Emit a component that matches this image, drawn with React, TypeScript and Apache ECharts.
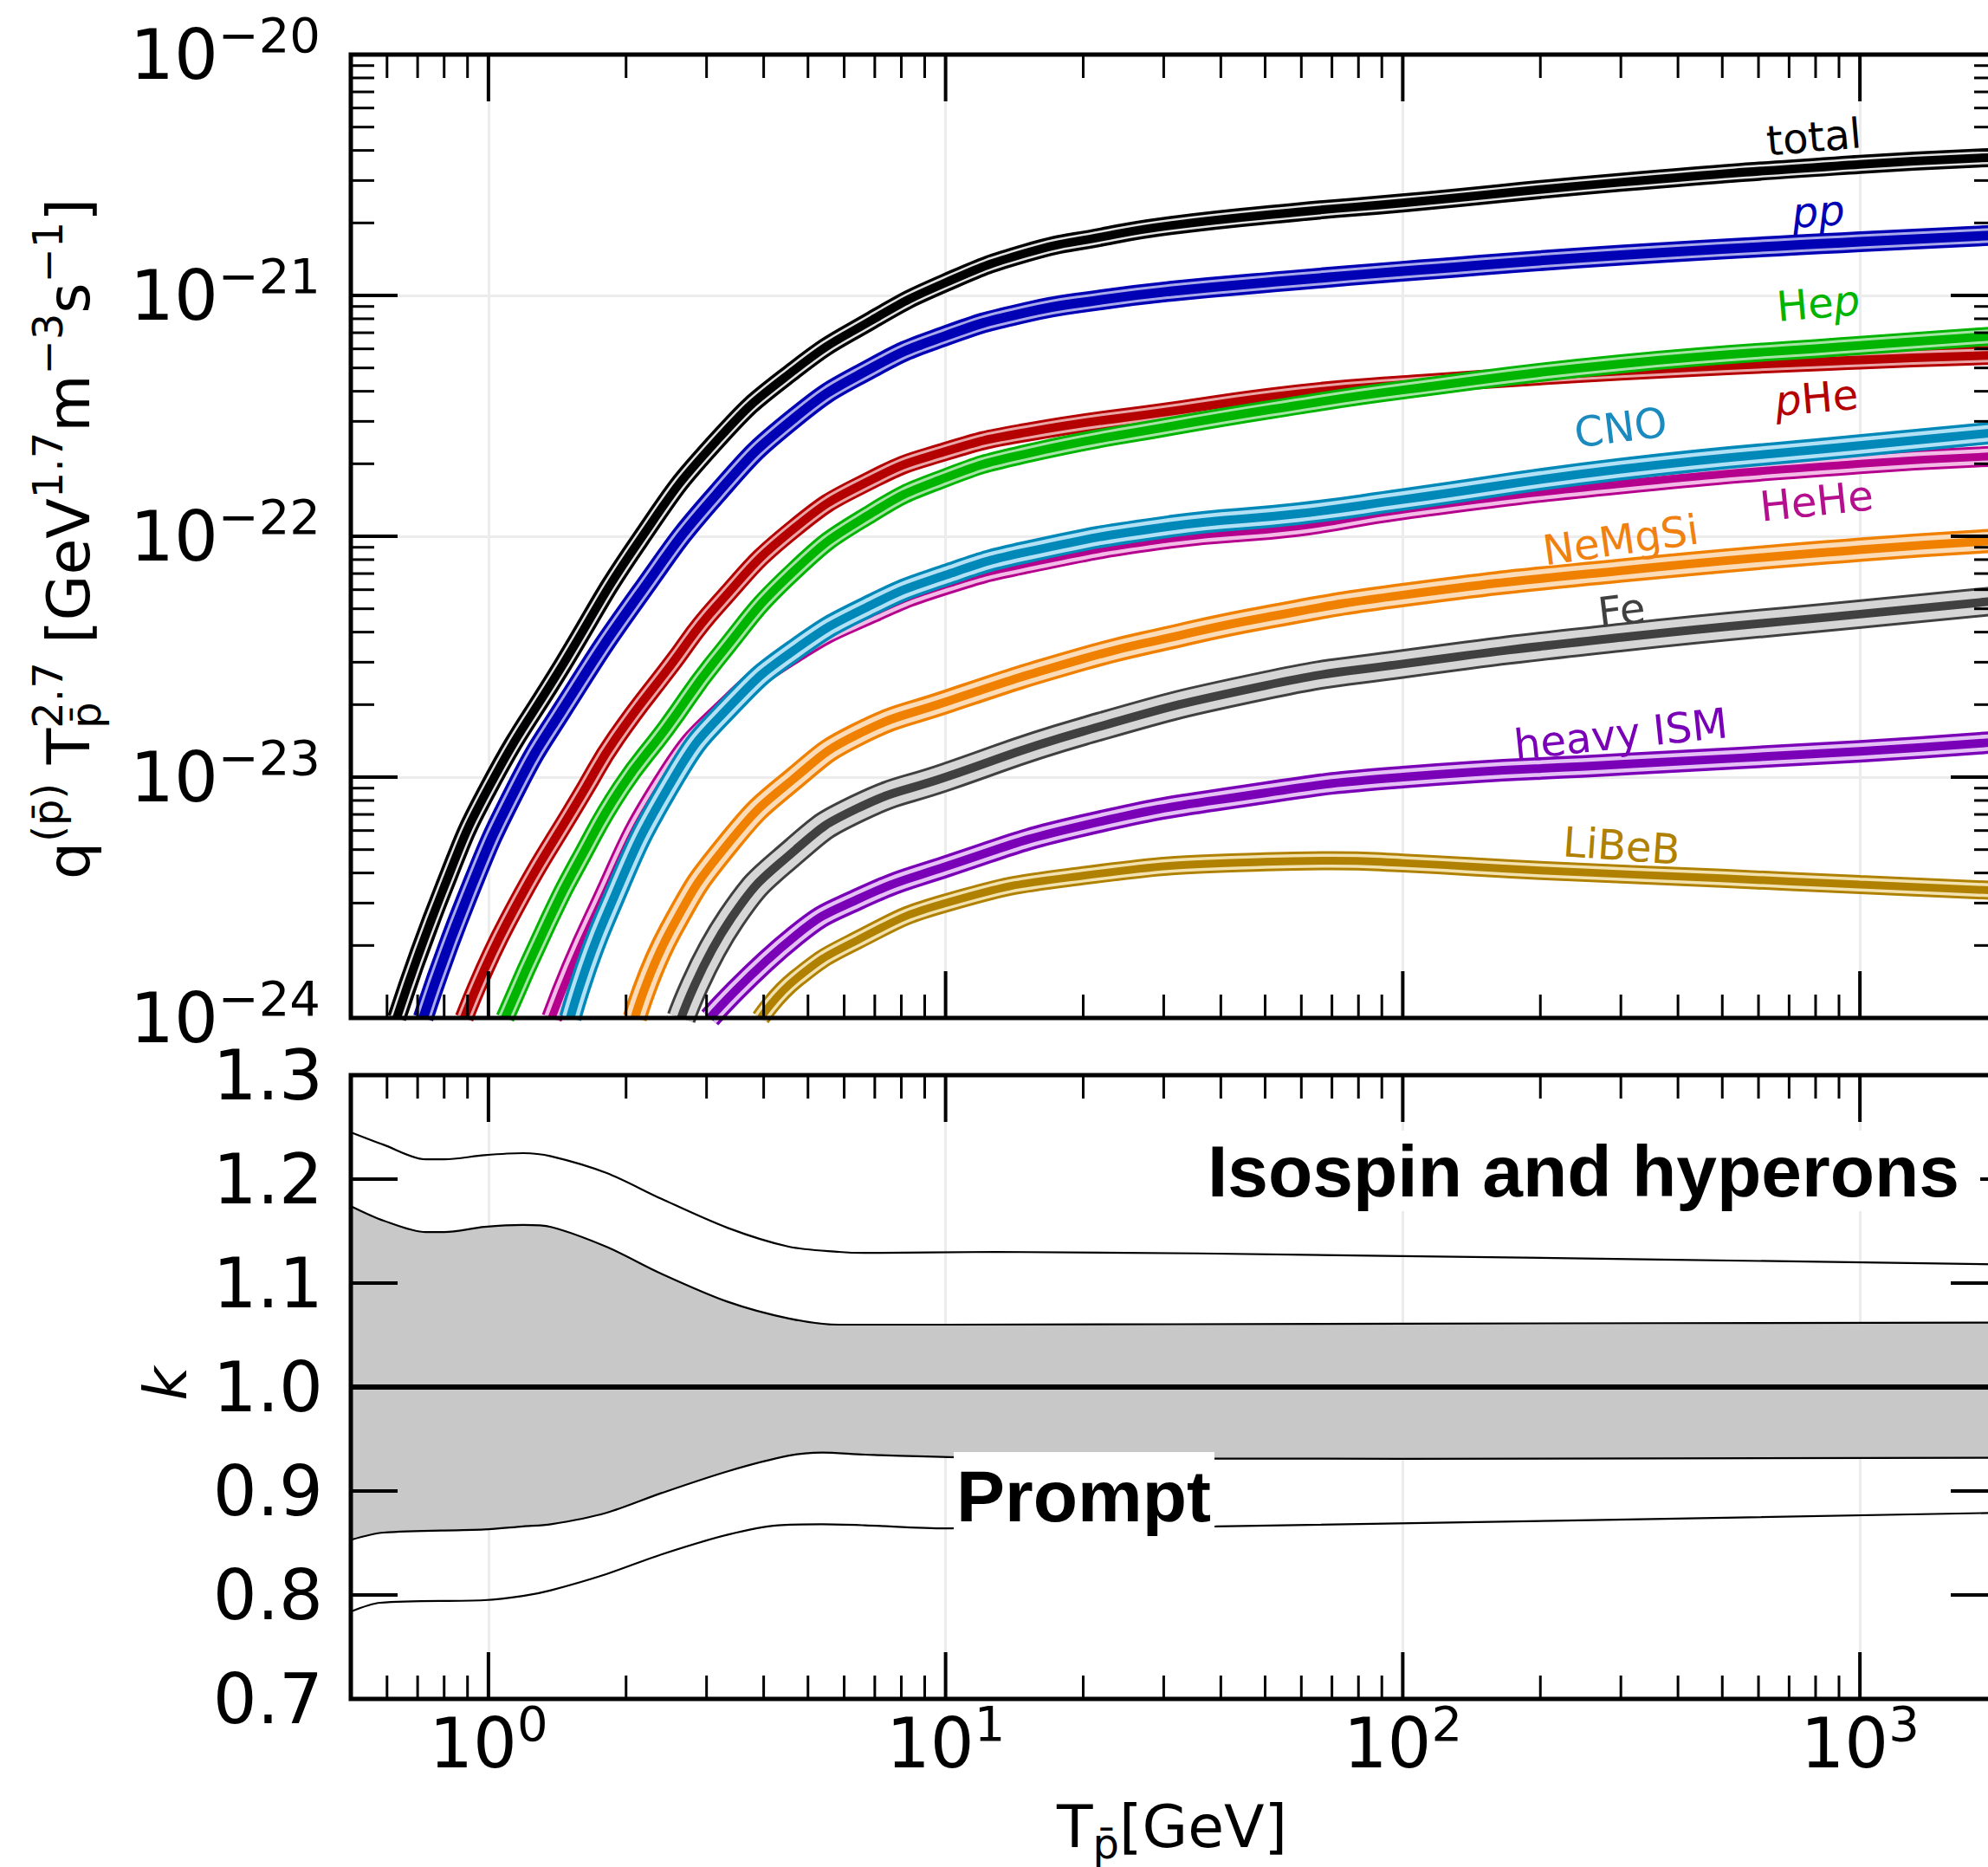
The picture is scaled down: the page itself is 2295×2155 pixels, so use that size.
import React, { useEffect, useRef } from "react";
import * as echarts from "echarts";

// ---------------- layout ----------------
const CHART_W = 2330;
const CHART_H = 2155;
const PLOT_LEFT = 405;
const PLOT_W = 1901;
const TOP1 = 63;
const H1 = 1112;
const TOP2 = 1241;
const H2 = 720;
const FONT = '"DejaVu Sans"';
const BOLD_FONT = '"Liberation Sans"';

// ---------------- axes ranges ----------------
const X_MIN = 0.5;
const X_MAX = 2000;
const Q_MIN = 1e-24;
const Q_MAX = 1e-20;
const K_MIN = 0.7;
const K_MAX = 1.3;

// ---------------- upper panel: q T^2.7 curves ----------------
const TOTAL_X = [0.63, 0.8, 1.0, 1.45, 2.14, 3.16, 4.67, 6.9, 10, 15, 22, 31, 59, 100, 300, 1000, 2000];
const TOTAL_Q = [1e-24, 3.5e-24, 9e-24, 2.9e-23, 9.6e-23, 2.5e-22, 4.9e-22, 7.9e-22, 1.13e-21, 1.5e-21, 1.75e-21, 1.95e-21, 2.22e-21, 2.42e-21, 2.95e-21, 3.5e-21, 3.75e-21];

const PP_X = [0.72, 0.9, 1.15, 1.45, 2.14, 3.16, 4.67, 6.9, 10, 15, 22, 31, 59, 100, 300, 1000, 2000];
const PP_Q = [1e-24, 3.2e-24, 9e-24, 1.9e-23, 5.75e-23, 1.5e-22, 3.1e-22, 5.0e-22, 6.8e-22, 8.5e-22, 9.6e-22, 1.04e-21, 1.16e-21, 1.26e-21, 1.47e-21, 1.67e-21, 1.78e-21];

const PHE_X = [0.885, 1.1, 1.63, 1.9, 2.5, 3.16, 4.67, 6.9, 10, 15, 31, 59, 100, 300, 1000, 2000];
const PHE_Q = [1e-24, 2.5e-24, 9e-24, 1.45e-23, 2.9e-23, 5.15e-23, 1.08e-22, 1.72e-22, 2.25e-22, 2.7e-22, 3.3e-22, 3.9e-22, 4.25e-22, 4.85e-22, 5.4e-22, 5.65e-22];

const HEP_X = [1.087, 1.35, 1.6, 1.95, 2.45, 3.16, 4.67, 6.9, 10, 15, 31, 59, 100, 300, 1000, 2000];
const HEP_Q = [1e-24, 2.5e-24, 4.7e-24, 9e-24, 1.6e-23, 3.1e-23, 7.2e-23, 1.25e-22, 1.75e-22, 2.2e-22, 2.86e-22, 3.5e-22, 4.05e-22, 5.2e-22, 6.2e-22, 6.8e-22];

const CNO_X = [1.51, 1.8, 2.55, 3.4, 4.7, 6.9, 10, 15, 31, 59, 100, 300, 1000, 2000];
const CNO_Q = [1e-24, 2.6e-24, 1e-23, 2.0e-23, 3.4e-23, 5.2e-23, 6.9e-23, 8.6e-23, 1.1e-22, 1.24e-22, 1.42e-22, 1.9e-22, 2.38e-22, 2.7e-22];

const HEHE_X = [1.375, 1.7, 2.45, 3.4, 4.7, 6.9, 10, 15, 31, 59, 100, 300, 1000, 2000];
const HEHE_Q = [1e-24, 2.6e-24, 1e-23, 2.05e-23, 3.3e-23, 4.8e-23, 6.3e-23, 7.7e-23, 9.8e-23, 1.1e-22, 1.29e-22, 1.65e-22, 2.0e-22, 2.15e-22];

const NEMGSI_X = [2.09, 2.5, 3.4, 4.7, 6.4, 10, 20, 31, 50, 100, 300, 1000, 2000];
const NEMGSI_Q = [1e-24, 2.3e-24, 5.5e-24, 1e-23, 1.5e-23, 2.05e-23, 3.1e-23, 3.8e-23, 4.6e-23, 5.7e-23, 7.2e-23, 8.8e-23, 9.6e-23];

const FE_X = [2.64, 3.4, 4.7, 6.4, 10, 20, 50, 100, 300, 1000, 2000];
const FE_Q = [1e-24, 2.6e-24, 5.0e-24, 7.4e-24, 1.0e-23, 1.55e-23, 2.4e-23, 2.95e-23, 3.8e-23, 4.75e-23, 5.4e-23];

const HEAVY_X = [3.05, 4.7, 6.4, 10, 20, 50, 100, 300, 1000, 2000];
const HEAVY_Q = [1e-24, 2.2e-24, 3.1e-24, 4.25e-24, 6.3e-24, 8.6e-24, 1.0e-23, 1.13e-23, 1.28e-23, 1.4e-23];

const LIBEB_X = [3.94, 4.7, 6.4, 10, 20, 50, 70, 100, 200, 500, 1000, 2000];
const LIBEB_Q = [1e-24, 1.45e-24, 2.1e-24, 3.0e-24, 3.9e-24, 4.45e-24, 4.5e-24, 4.4e-24, 4.1e-24, 3.8e-24, 3.58e-24, 3.38e-24];

// ---------------- lower panel: k factors ----------------
const K_OUTER_UP_X = [0.5, 0.59, 0.73, 0.8, 0.98, 1.19, 1.37, 1.81, 2.39, 3.34, 4.54, 5.84, 6.66, 12.8, 100, 2000];
const K_OUTER_UP = [1.245, 1.233, 1.219, 1.219, 1.223, 1.225, 1.222, 1.206, 1.181, 1.153, 1.135, 1.13, 1.129, 1.13, 1.126, 1.118];

const K_INNER_UP_X = [0.5, 0.59, 0.73, 0.8, 0.98, 1.19, 1.37, 1.81, 2.39, 3.34, 4.54, 5.84, 10, 100, 2000];
const K_INNER_UP = [1.174, 1.16, 1.149, 1.149, 1.154, 1.156, 1.154, 1.135, 1.109, 1.082, 1.066, 1.06, 1.06, 1.061, 1.062];

const K_INNER_LO_X = [0.5, 0.59, 0.98, 1.19, 1.37, 1.81, 2.39, 3.34, 4.54, 5.37, 6.66, 12.8, 100, 2000];
const K_INNER_LO = [0.853, 0.86, 0.863, 0.866, 0.868, 0.879, 0.898, 0.919, 0.934, 0.937, 0.935, 0.932, 0.931, 0.932];

const K_OUTER_LO_X = [0.5, 0.58, 0.98, 1.19, 1.37, 1.81, 2.39, 3.34, 4.3, 5.37, 6.66, 10, 39, 2000];
const K_OUTER_LO = [0.784, 0.7925, 0.795, 0.799, 0.8045, 0.82, 0.839, 0.858, 0.867, 0.868, 0.867, 0.864, 0.866, 0.879];

const K_CENTER_X = [0.5, 2000];
const K_CENTER = [1.0, 1.0];

// ---------------- ticks ----------------
const X_MAJOR = [1, 10, 100, 1000];
const X_MINOR = [0.6, 0.7, 0.8, 0.9, 2, 3, 4, 5, 6, 7, 8, 9, 20, 30, 40, 50, 60, 70, 80, 90, 200, 300, 400, 500, 600, 700, 800, 900];
const Q_MAJOR = [1e-23, 1e-22, 1e-21];
const MANTISSAS = [2, 3, 4, 5, 6, 7, 8, 9];
const Q_DECADES = [1e-24, 1e-23, 1e-22, 1e-21];
const Q_MINOR = Q_DECADES.flatMap((d) => MANTISSAS.map((m) => m * d));
const K_TICKS = [0.8, 0.9, 1.0, 1.1, 1.2];

// ---------------- styles ----------------
const STYLE: Record<string, any> = {
  total: { color: "#000000", tint: "#e2e2e2", w: 22, tw: 15, cw: 10 },
  pp: { color: "#0000b4", tint: "#a8a8ea", w: 24, tw: 17, cw: 11 },
  Hep: { color: "#00b400", tint: "#a6e4a6", w: 22, tw: 16, cw: 10 },
  pHe: { color: "#b40000", tint: "#eaa6a6", w: 22, tw: 16, cw: 10 },
  CNO: { color: "#0088b8", tint: "#b2e0f4", w: 26, tw: 19, cw: 10 },
  HeHe: { color: "#b4008c", tint: "#f2bce6", w: 24, tw: 18, cw: 9 },
  NeMgSi: { color: "#f08000", tint: "#fcdcb8", w: 28, tw: 21, cw: 10 },
  Fe: { color: "#404040", tint: "#d6d6d6", w: 34, tw: 28, cw: 10 },
  heavy: { color: "#7a00b8", tint: "#e4c0f4", w: 26, tw: 19, cw: 10 },
  LiBeB: { color: "#b08000", tint: "#f2e2b0", w: 22, tw: 16, cw: 9 },
};

const COMPONENTS = [
  { key: "LiBeB", xs: LIBEB_X, qs: LIBEB_Q },
  { key: "heavy", xs: HEAVY_X, qs: HEAVY_Q },
  { key: "Fe", xs: FE_X, qs: FE_Q },
  { key: "NeMgSi", xs: NEMGSI_X, qs: NEMGSI_Q },
  { key: "HeHe", xs: HEHE_X, qs: HEHE_Q },
  { key: "CNO", xs: CNO_X, qs: CNO_Q },
  { key: "pHe", xs: PHE_X, qs: PHE_Q },
  { key: "Hep", xs: HEP_X, qs: HEP_Q },
  { key: "pp", xs: PP_X, qs: PP_Q },
  { key: "total", xs: TOTAL_X, qs: TOTAL_Q },
];

// the upper y axis is a decade axis: positions are log10 of the values
const dec = (v: number) => Math.log10(v);

// ---------------- text helpers ----------------
type Piece = { t: string; size: number; dy?: number; italic?: boolean; bold?: boolean; family?: string; noAdvance?: boolean };

let measureCtx: CanvasRenderingContext2D | null = null;
function measure(p: Piece): number {
  if (!measureCtx) measureCtx = document.createElement("canvas").getContext("2d");
  const ctx = measureCtx!;
  ctx.font = `${p.italic ? "italic " : ""}${p.bold ? "bold " : ""}${p.size}px ${p.family || FONT}`;
  return ctx.measureText(p.t).width;
}

function textGroup(pieces: Piece[], cx: number, cy: number, rotDeg: number, color: string, z = 100) {
  const widths = pieces.map(measure);
  const total = pieces.reduce((s, p, i) => s + (p.noAdvance ? 0 : widths[i]), 0);
  let x = -total / 2;
  const children = pieces.map((p, i) => {
    const el = {
      type: "text",
      x,
      y: p.dy || 0,
      z,
      style: {
        text: p.t,
        fontSize: p.size,
        fontFamily: p.family || FONT,
        fontStyle: p.italic ? "italic" : "normal",
        fontWeight: p.bold ? "bold" : "normal",
        fill: color,
        textAlign: "left",
        textVerticalAlign: "middle",
        align: "left",
        verticalAlign: "middle",
      },
    };
    if (!p.noAdvance) x += widths[i];
    return el;
  });
  return { type: "group", x: cx, y: cy, rotation: (rotDeg * Math.PI) / 180, z, children };
}

const expLabel = (e: number) => (e < 0 ? `{b|10}{s|\u2212${-e}}` : `{b|10}{s|${e}}`);

const powLabel = (v: number) => {
  const l = Math.log10(v);
  const e = Math.round(l);
  if (Math.abs(l - e) > 1e-6) return "";
  return expLabel(e);
};

const decLabel = (v: number) => {
  const e = Math.round(v);
  if (Math.abs(v - e) > 1e-6) return "";
  return expLabel(e);
};

const POW_RICH = {
  b: { fontFamily: FONT, fontSize: 80, lineHeight: 86, color: "#000" },
  s: { fontFamily: FONT, fontSize: 56, lineHeight: 56, padding: [0, 0, 46, 0], color: "#000" },
};

const MAJOR_LEN = 54;
const MINOR_LEN = 27;

function tickRender(params: any, api: any) {
  const cs = params.coordSys;
  const kind = api.value(2);
  const p = api.coord([api.value(0), api.value(1)]);
  const major = kind === 0 || kind === 2;
  const L = major ? MAJOR_LEN : MINOR_LEN;
  const style = { stroke: "#000", lineWidth: major ? 4 : 3 };
  if (kind < 2) {
    return {
      type: "group",
      children: [
        { type: "line", shape: { x1: p[0], y1: cs.y, x2: p[0], y2: cs.y + L }, style },
        { type: "line", shape: { x1: p[0], y1: cs.y + cs.height, x2: p[0], y2: cs.y + cs.height - L }, style },
      ],
    };
  }
  return {
    type: "group",
    children: [
      { type: "line", shape: { x1: cs.x, y1: p[1], x2: cs.x + L, y2: p[1] }, style },
      { type: "line", shape: { x1: cs.x + cs.width, y1: p[1], x2: cs.x + cs.width - L, y2: p[1] }, style },
    ],
  };
}

function buildOption() {
  const series: any[] = [];

  COMPONENTS.forEach((c) => {
    const st = STYLE[c.key];
    const data = c.xs.map((x, i) => [x, dec(c.qs[i])]);
    const base = {
      type: "line",
      xAxisIndex: 0,
      yAxisIndex: 0,
      data,
      smooth: 0.5,
      symbol: "none",
      silent: true,
      clip: true,
    };
    series.push({ ...base, name: c.key + "-edge", lineStyle: { color: st.color, width: st.w, cap: "butt", join: "round" } });
    series.push({ ...base, name: c.key + "-band", lineStyle: { color: st.tint, width: st.tw, cap: "butt", join: "round" } });
    series.push({ ...base, name: c.key, lineStyle: { color: st.color, width: st.cw, cap: "butt", join: "round" } });
  });

  const upperTicks = [
    ...X_MAJOR.map((v) => [v, -22, 0]),
    ...X_MINOR.map((v) => [v, -22, 1]),
    ...Q_MAJOR.map((v) => [1, dec(v), 2]),
    ...Q_MINOR.map((v) => [1, dec(v), 3]),
  ];
  series.push({ type: "custom", xAxisIndex: 0, yAxisIndex: 0, data: upperTicks, renderItem: tickRender, silent: true, clip: false, z: 10 });

  const kLine = (xs: number[], ks: number[], width: number, area: boolean) => ({
    type: "line",
    xAxisIndex: 1,
    yAxisIndex: 1,
    data: xs.map((x, i) => [x, ks[i]]),
    smooth: 0.3,
    symbol: "none",
    silent: true,
    lineStyle: { color: "#000", width },
    ...(area ? { areaStyle: { color: "#c8c8c8", opacity: 1, origin: 1.0 } } : {}),
  });
  series.push(kLine(K_INNER_UP_X, K_INNER_UP, 2.2, true));
  series.push(kLine(K_INNER_LO_X, K_INNER_LO, 2.2, true));
  series.push(kLine(K_OUTER_UP_X, K_OUTER_UP, 2.2, false));
  series.push(kLine(K_OUTER_LO_X, K_OUTER_LO, 2.2, false));
  series.push({ ...kLine(K_CENTER_X, K_CENTER, 6, false), smooth: false });

  const lowerTicks = [
    ...X_MAJOR.map((v) => [v, 1.0, 0]),
    ...X_MINOR.map((v) => [v, 1.0, 1]),
    ...K_TICKS.map((v) => [1, v, 2]),
  ];
  series.push({ type: "custom", xAxisIndex: 1, yAxisIndex: 1, data: lowerTicks, renderItem: tickRender, silent: true, clip: false, z: 10 });

  const splitLine = { show: true, lineStyle: { color: "#ececec", width: 3 } };

  const F = 68;
  const S = 48;
  const PBAR = "p\u0304";

  const elements: any[] = [
    { type: "rect", z: 90, shape: { x: PLOT_LEFT, y: TOP1, width: PLOT_W, height: H1 }, style: { fill: "none", stroke: "#000", lineWidth: 5 } },
    { type: "rect", z: 90, shape: { x: PLOT_LEFT, y: TOP2, width: PLOT_W, height: H2 }, style: { fill: "none", stroke: "#000", lineWidth: 5 } },
    // y title upper
    textGroup(
      [
        { t: "q", size: F },
        { t: `(${PBAR})`, size: S, dy: -24 },
        { t: " T", size: F },
        { t: PBAR, size: S, dy: 20, noAdvance: true },
        { t: "2.7", size: S, dy: -24 },
        { t: " [GeV", size: F },
        { t: "1.7", size: S, dy: -24 },
        { t: "m", size: F },
        { t: "\u22123", size: S, dy: -24 },
        { t: "s", size: F },
        { t: "\u22121", size: S, dy: -24 },
        { t: "]", size: F },
      ],
      79,
      622,
      90,
      "#000"
    ),
    // k title
    textGroup([{ t: "k", size: F, italic: true }], 191, 1597, 90, "#000"),
    // x title
    textGroup(
      [
        { t: "T", size: F },
        { t: PBAR, size: S, dy: 20 },
        { t: "[GeV]", size: F },
      ],
      1353,
      2108,
      0,
      "#000"
    ),
    // curve labels
    textGroup([{ t: "total", size: 48 }], 2094, 158, 5, "#000"),
    textGroup([{ t: "pp", size: 48, italic: true }], 2099, 244, 4, "#0000b4"),
    textGroup([{ t: "He", size: 48 }, { t: "p", size: 48, italic: true }], 2099, 350, 5, "#00b400"),
    textGroup([{ t: "p", size: 48, italic: true }, { t: "He", size: 48 }], 2097, 459, 5, "#b40000"),
    textGroup([{ t: "CNO", size: 48 }], 1871, 493, 7, "#1a8abf"),
    textGroup([{ t: "HeHe", size: 48 }], 2097, 578, 6, "#b4108e"),
    textGroup([{ t: "NeMgSi", size: 48 }], 1871, 623, 8, "#f08010"),
    textGroup([{ t: "Fe", size: 48 }], 1872, 704, 7, "#404040"),
    textGroup([{ t: "heavy ISM", size: 48 }], 1871, 847, 6, "#7a00b8"),
    textGroup([{ t: "LiBeB", size: 48 }], 1872, 976, -4, "#b08000"),
    // lower panel annotations (white boxes behind them)
    { type: "rect", z: 99, shape: { x: 1392, y: 1305, width: 894, height: 93 }, style: { fill: "#fff" } },
    textGroup([{ t: "Isospin and hyperons", size: 84, bold: true, family: BOLD_FONT }], 1828, 1352, 0, "#000", 101),
    { type: "rect", z: 99, shape: { x: 1101, y: 1676, width: 301, height: 93 }, style: { fill: "#fff" } },
    textGroup([{ t: "Prompt", size: 84, bold: true, family: BOLD_FONT }], 1251, 1727, 0, "#000", 101),
  ];

  return {
    animation: false,
    backgroundColor: "#fff",
    grid: [
      { left: PLOT_LEFT, top: TOP1, width: PLOT_W, height: H1, containLabel: false },
      { left: PLOT_LEFT, top: TOP2, width: PLOT_W, height: H2, containLabel: false },
    ],
    xAxis: [
      {
        gridIndex: 0,
        type: "log",
        logBase: 10,
        min: X_MIN,
        max: X_MAX,
        axisLine: { show: false },
        axisTick: { show: false },
        axisLabel: { show: false },
        splitLine,
      },
      {
        gridIndex: 1,
        type: "log",
        logBase: 10,
        min: X_MIN,
        max: X_MAX,
        axisLine: { show: false },
        axisTick: { show: false },
        axisLabel: { show: true, formatter: powLabel, rich: POW_RICH, margin: 8, showMinLabel: true, showMaxLabel: true },
        splitLine,
      },
    ],
    yAxis: [
      {
        gridIndex: 0,
        type: "value",
        min: dec(Q_MIN),
        max: dec(Q_MAX),
        interval: 1,
        axisLine: { show: false },
        axisTick: { show: false },
        axisLabel: { show: true, formatter: decLabel, rich: POW_RICH, margin: 35, showMinLabel: true, showMaxLabel: true },
        splitLine,
      },
      {
        gridIndex: 1,
        type: "value",
        min: K_MIN,
        max: K_MAX,
        interval: 0.1,
        axisLine: { show: false },
        axisTick: { show: false },
        axisLabel: {
          show: true,
          formatter: (v: number) => v.toFixed(1),
          fontFamily: FONT,
          fontSize: 80,
          color: "#000",
          margin: 32,
          showMinLabel: true,
          showMaxLabel: true,
        },
        splitLine: { show: false },
      },
    ],
    series,
    graphic: { elements },
  };
}

export default function App() {
  const ref = useRef<HTMLDivElement>(null);
  useEffect(() => {
    document.documentElement.style.overflow = "hidden";
    document.body.style.overflow = "hidden";
    document.body.style.margin = "0";
    const chart = echarts.init(ref.current!, null, { renderer: "svg" });
    chart.setOption(buildOption() as any);
    return () => {
      chart.dispose();
    };
  }, []);
  return (
    <div
      ref={ref}
      style={{ position: "absolute", left: 0, top: 0, width: CHART_W, height: CHART_H, background: "#fff" }}
    />
  );
}
